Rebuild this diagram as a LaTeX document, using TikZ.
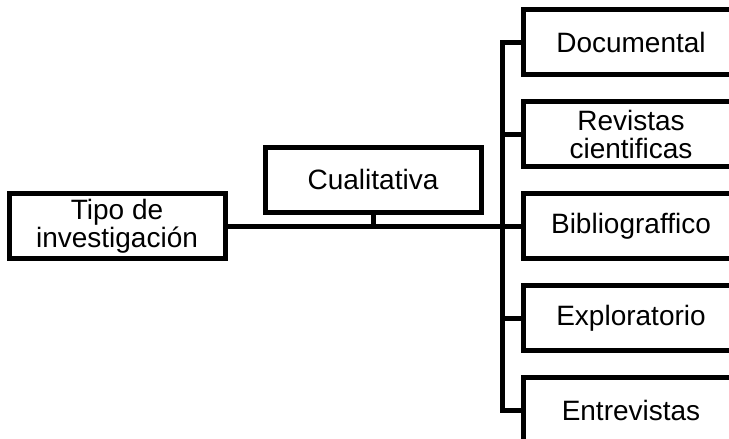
\documentclass[tikz,border=0pt]{standalone}
\usepackage{fontspec}
\setmainfont{Liberation Sans}
\usetikzlibrary{positioning}

\begin{document}
\begin{tikzpicture}
\tikzset{cajatexto/.style={rectangle,line width=5pt,outer sep=0pt,minimum width=216pt,minimum height=65pt,align=center,font=\fontsize{28}{28}\selectfont}}
\clip (0,0) rectangle (729pt,-439pt);
\node[cajatexto,draw](a) at (117pt,-226pt){Tipo de\\investigación};
\node[cajatexto,draw](b)[right=40pt of a,yshift=46.5pt]{Cualitativa};
\node[cajatexto,draw](e)[right=298pt of a]{Bibliograffico};
\node[cajatexto,draw](d)[above=27pt of e]{Revistas\\cientificas};
\node[cajatexto,draw](c)[above=27pt of d]{Documental};
\node[cajatexto,draw](f)[below=27pt of e]{Exploratorio};
\node[cajatexto,draw](g)[below=27pt of f]{Entrevistas};
\coordinate[left=21pt of e.west](bus);
\draw[line width=5pt](a.east) -- (e.west);
\draw[line width=5pt](b.south) -- (b.south |- a.east);
\draw[line width=5pt](c.west) -| (bus |- g.west) -- (g.west);
\draw[line width=5pt](bus |- d.west) -- (d.west);
\draw[line width=5pt](bus |- f.west) -- (f.west);
\end{tikzpicture}
\end{document}
